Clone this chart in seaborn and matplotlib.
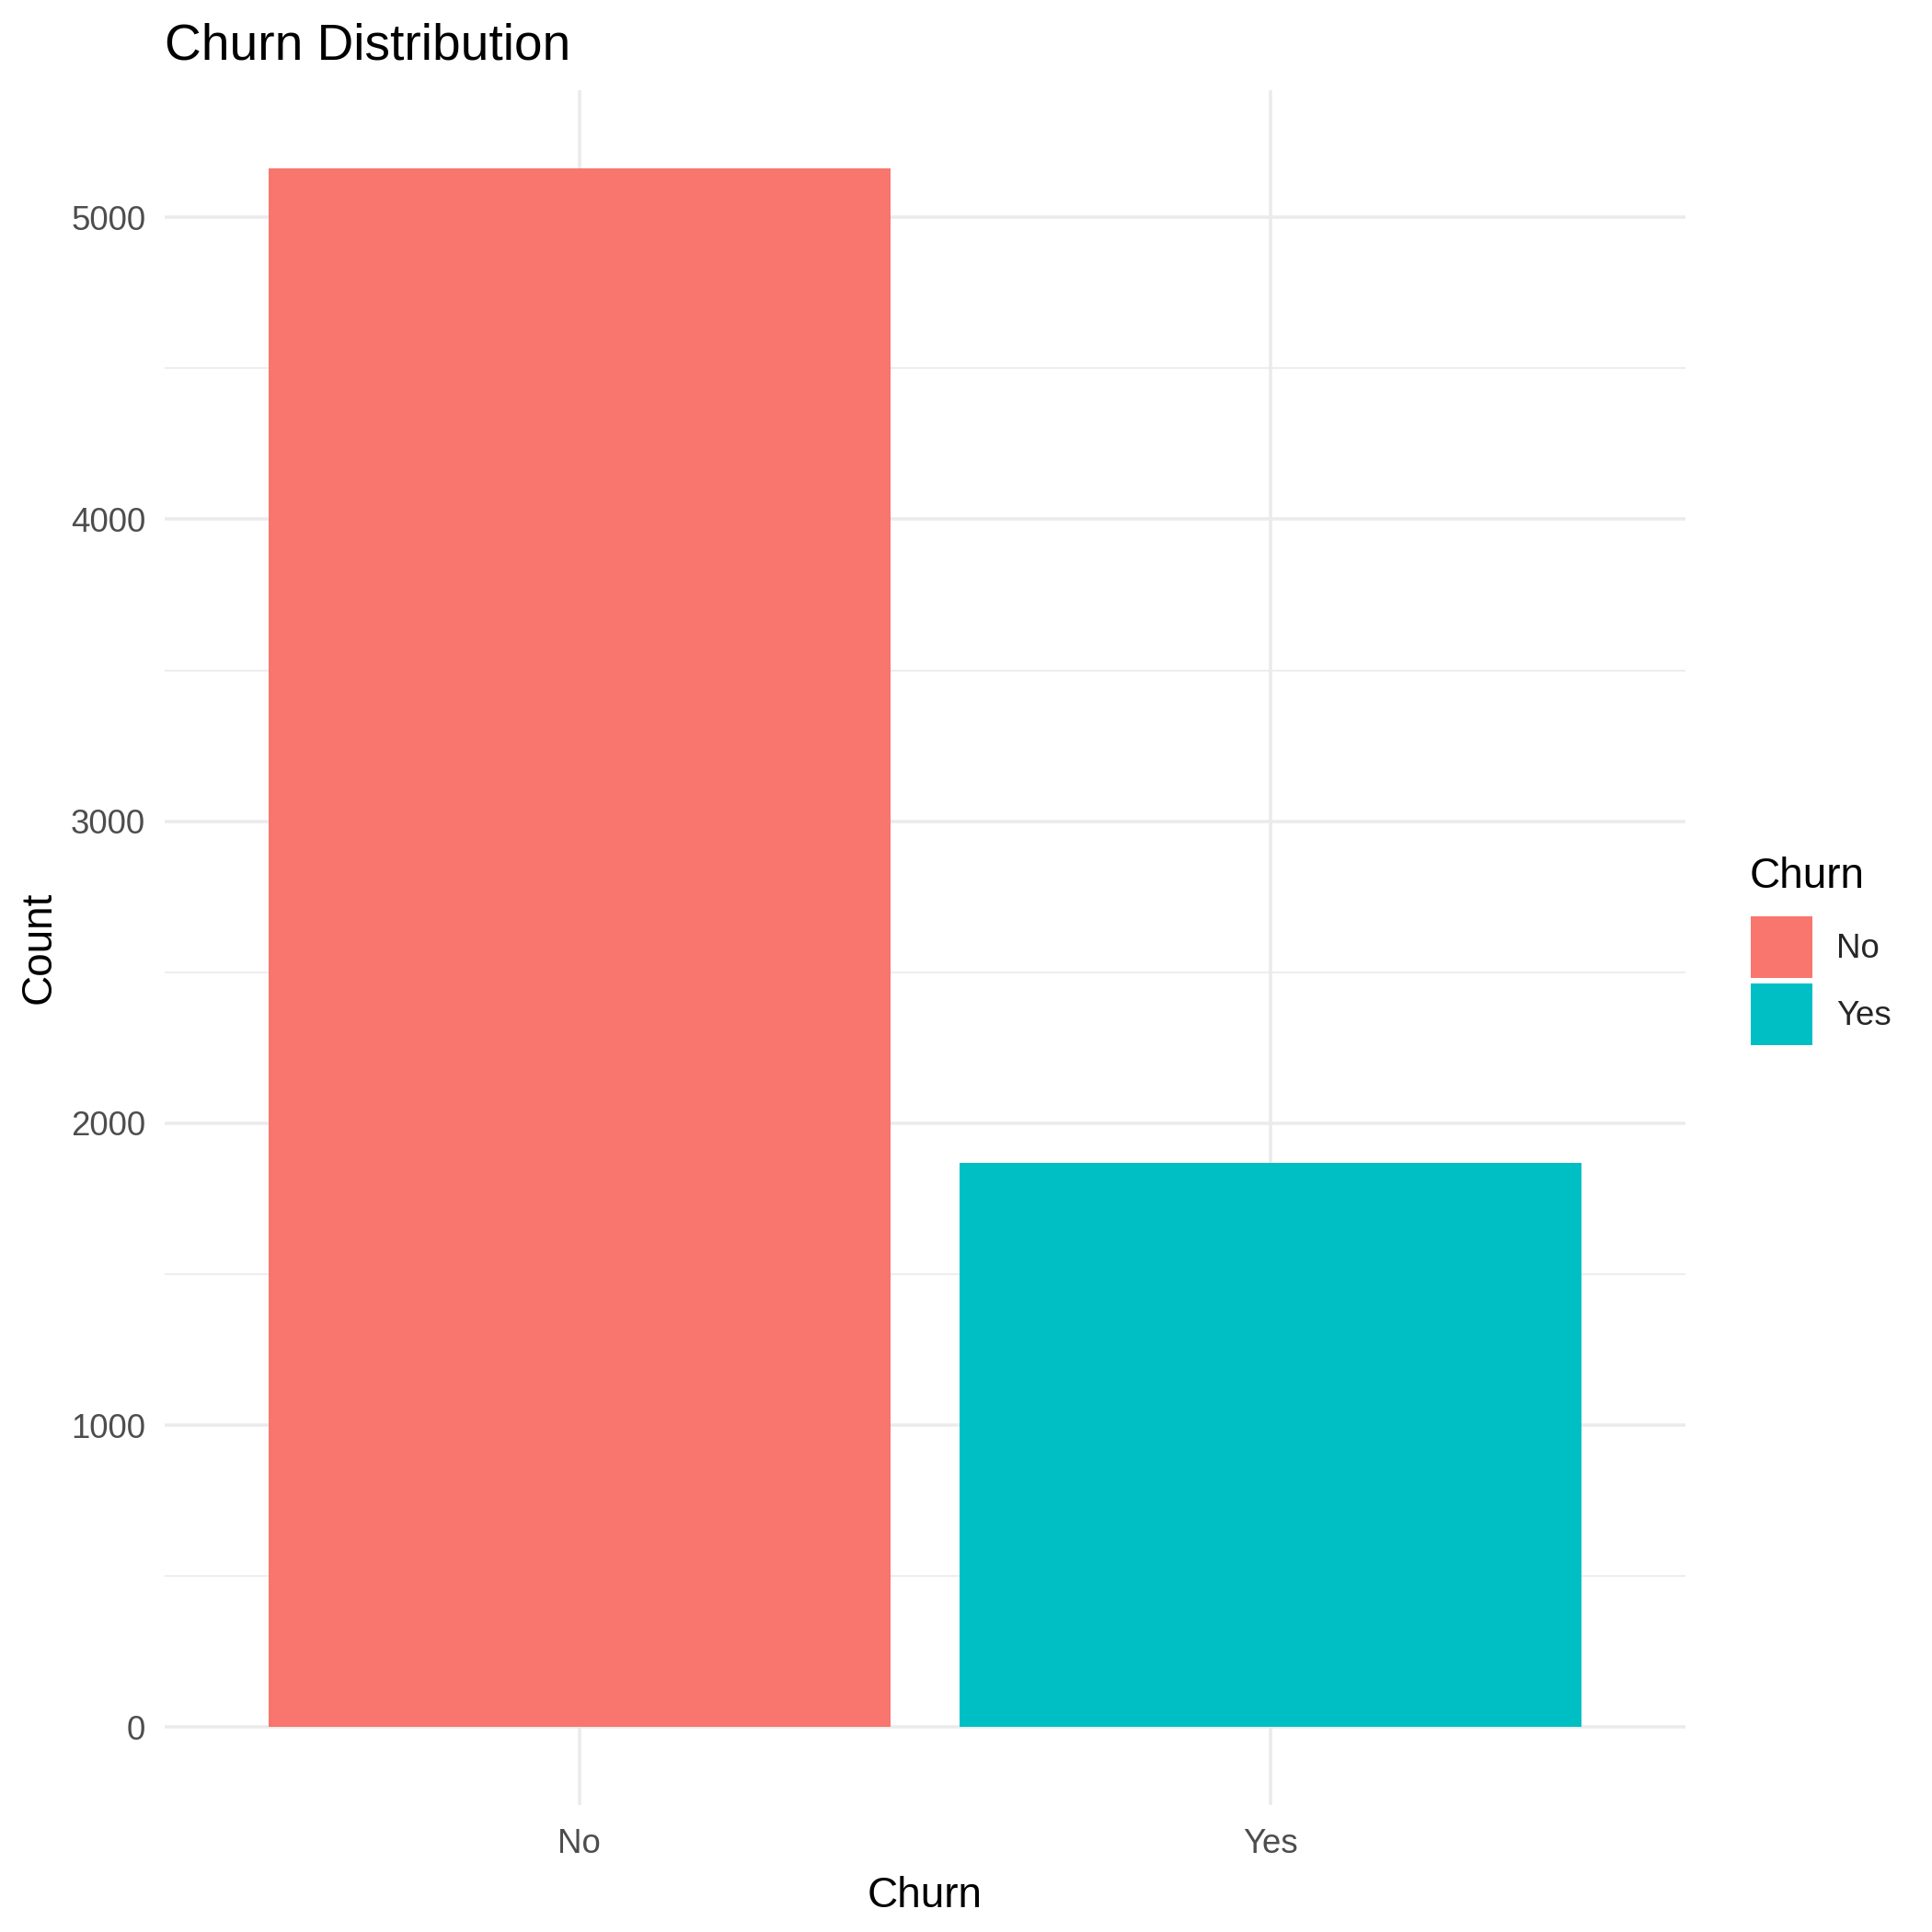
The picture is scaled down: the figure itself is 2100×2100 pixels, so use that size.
import matplotlib
matplotlib.use("Agg")
import matplotlib.pyplot as plt
import matplotlib.patches as mpatches
import seaborn as sns
import pandas as pd

categories = ["No", "Yes"]
counts = [5163, 1869]
colors = ["#F8766D", "#00BFC4"]

df = pd.DataFrame({"Churn": categories, "Count": counts})

sns.set_theme(style="white")
plt.rcParams['font.family'] = ['Liberation Sans', 'DejaVu Sans']

fig = plt.figure(figsize=(7, 7), dpi=300)
ax = fig.add_axes([179/2100, (2100-1962)/2100, (1832-179)/2100, (1962-98)/2100])

sns.barplot(data=df, x="Churn", y="Count", hue="Churn", palette=colors,
            width=0.9, saturation=1, legend=False, ax=ax, zorder=3)
for p in ax.patches:
    p.set_edgecolor("none")
    p.set_linewidth(0)

ymax = max(counts)
ax.set_xlim(-0.6, 1.6)
ax.set_ylim(-0.05*ymax, 1.05*ymax)
ax.set_yticks([0, 1000, 2000, 3000, 4000, 5000])

grid_c = "#EBEBEB"
ax.grid(False)
for y in [0, 1000, 2000, 3000, 4000, 5000]:
    ax.axhline(y, color=grid_c, lw=0.85, zorder=0)
for y in [500, 1500, 2500, 3500, 4500]:
    ax.axhline(y, color=grid_c, lw=0.42, zorder=0)
for x in [0, 1]:
    ax.axvline(x, color=grid_c, lw=0.85, zorder=0)

for s in ax.spines.values():
    s.set_visible(False)
ax.set_facecolor("white")

ax.tick_params(axis="both", length=0, labelsize=8.8, labelcolor="#4D4D4D")
ax.tick_params(axis="y", pad=5)
ax.tick_params(axis="x", pad=6)

ax.set_xlabel("Churn", fontsize=11, color="black", labelpad=4)
ax.set_ylabel("Count", fontsize=11, color="black", labelpad=3)
ax.set_title("Churn Distribution", fontsize=13.2, color="black", loc="left", pad=8)

handles = [mpatches.Patch(facecolor=c, edgecolor="none", label=l) for c, l in zip(colors, categories)]
leg = fig.legend(handles=handles, loc="upper left",
                 bbox_to_anchor=(1903/2100, 1 - 996/2100), frameon=False,
                 fontsize=8.8, handlelength=1.83, handleheight=2.44,
                 handletextpad=0.7, labelspacing=0.16, borderpad=0, borderaxespad=0)
fig.text(1902/2100, 1 - 965/2100, "Churn", fontsize=11, color="black",
         ha="left", va="baseline")

fig.savefig("out.png", dpi=300, facecolor="white")
